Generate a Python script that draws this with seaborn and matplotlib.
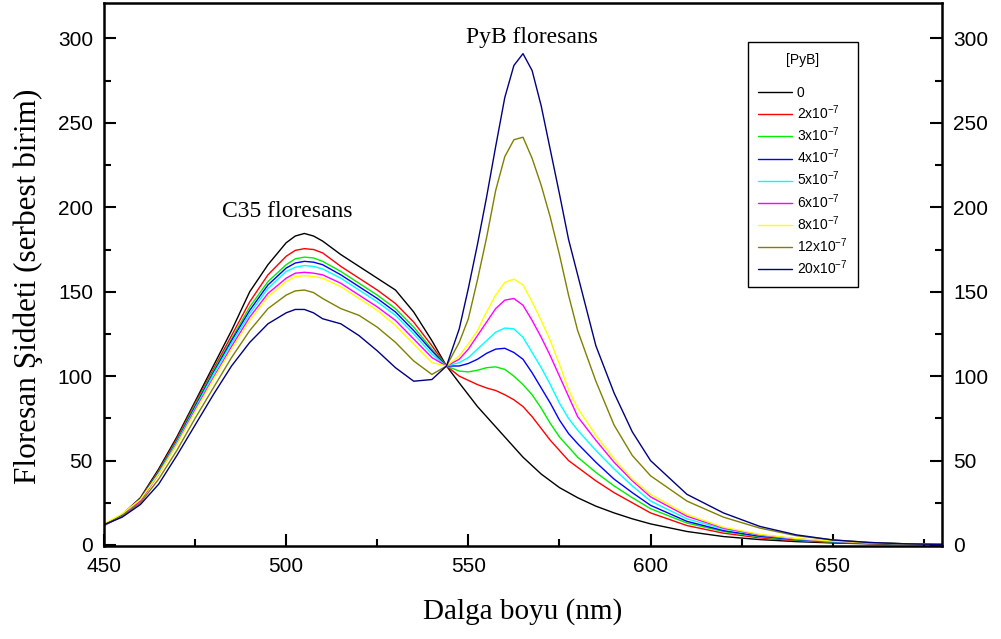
import matplotlib
matplotlib.use("Agg")
import numpy as np
import pandas as pd
import seaborn as sns
import matplotlib.pyplot as plt
from matplotlib.ticker import MultipleLocator
from matplotlib.lines import Line2D

# ---------------- data ----------------
wavelength = [450, 455, 460, 465, 470, 475, 480, 485, 490, 495, 500, 502.5, 505, 507.5, 510,
              515, 520, 525, 530, 535, 540, 544, 547.5, 550, 552.5, 555, 557.5, 560, 562.5,
              565, 567.5, 570, 572.5, 575, 577.5, 580, 585, 590, 595, 600, 610, 620, 630,
              640, 650, 660, 670, 680]

conc_0 = [12, 18, 28, 45, 64, 85, 106, 127, 150, 166, 179, 183, 184.5, 183, 180,
          172, 165, 158, 151, 138, 121, 106, 96, 89, 82, 76, 70, 64, 58,
          52, 47, 42, 38, 34, 31, 28, 23, 19, 15.5, 12.5, 8, 5, 3.2,
          2, 1.2, 0.7, 0.4, 0.2]
conc_2 = [12, 18, 27.5, 44, 63, 84, 104, 124, 144, 160, 171, 174.5, 175.5, 175, 173,
          165, 158, 151, 143, 132, 118, 106, 100, 97.5, 95, 93, 91.5, 89, 86,
          82, 76, 69, 62, 56, 50, 46, 38, 31, 25, 19, 11.5, 7, 4.2,
          2.6, 1.6, 0.9, 0.5, 0.3]
conc_3 = [12, 18, 27, 43.5, 62, 83, 103, 122, 141, 156, 166, 169.5, 170.5, 170, 168,
          162, 155, 148, 140, 129, 116, 106, 103, 102.5, 103.5, 105, 105.5, 104, 100,
          95, 89, 81, 72, 64, 58, 52, 43, 35, 28, 21.5, 13, 8, 4.8,
          2.9, 1.7, 1.0, 0.6, 0.3]
conc_4 = [12, 17.5, 27, 43, 61.5, 82, 102, 121, 139, 154, 164, 167, 168, 167.5, 166,
          160, 153, 146, 138, 127, 115, 106, 106, 107.5, 110, 113.5, 116, 116.5, 114,
          110, 102, 93, 84, 74, 66, 60, 49, 39, 31, 23.5, 14, 8.5, 5.2,
          3.2, 1.9, 1.1, 0.6, 0.3]
conc_5 = [11.5, 17, 26.5, 42.5, 61, 81, 101, 119.5, 137, 152, 162, 164.5, 165.5, 165, 163.5,
          158, 151, 144, 136, 125, 113, 106, 108, 111, 116, 121, 126, 128.5, 128,
          123, 114, 105, 95, 84, 75, 68, 56, 45, 35, 26, 15.5, 9.5, 5.8,
          3.5, 2.1, 1.2, 0.7, 0.3]
conc_6 = [11.5, 17, 26, 42, 60, 80, 99, 117.5, 135, 149, 158, 161, 161.5, 161, 160,
          155, 148, 141, 133, 122, 111, 106, 110, 116, 124, 132, 140, 145, 146,
          142, 133, 123, 112, 100, 88, 76, 62, 49, 38, 28.5, 17, 10, 6,
          3.6, 2.2, 1.3, 0.7, 0.3]
conc_8 = [12.5, 18.5, 27, 42, 59.5, 79, 98, 116, 133, 147, 156, 159, 159.5, 159, 158,
          153, 146, 139, 130, 119, 108, 106, 112, 119, 127, 138, 148, 155.5, 157.5,
          154, 144, 133, 121, 107, 92, 81, 65, 51, 39, 30, 18, 10.5, 6.3,
          3.8, 2.3, 1.3, 0.7, 0.3]
conc_12 = [12, 17, 25, 39, 56, 75, 93, 111, 127, 140, 148, 150.5, 151, 149.5, 146,
           140, 136, 129, 120, 109, 101, 106, 120, 134, 157, 182, 210, 230, 240,
           241.5, 229, 213, 194, 172, 148, 127, 97, 71, 53, 41, 26, 16.5, 10,
           5.5, 3, 1.5, 0.7, 0.3]
conc_20 = [12, 16.5, 24, 36, 53, 71, 89, 106, 120, 131, 137.5, 139.5, 139.5, 137.5, 134,
           131, 124, 115, 105, 97, 98, 106, 128, 152, 178, 206, 236, 265, 284,
           291, 281, 260, 234, 208, 181, 160, 118, 90, 67, 50, 30, 19, 11,
           6, 3, 1.5, 0.7, 0.3]

series_labels = ["0", "2x10$^{-7}$", "3x10$^{-7}$", "4x10$^{-7}$", "5x10$^{-7}$",
                 "6x10$^{-7}$", "8x10$^{-7}$", "12x10$^{-7}$", "20x10$^{-7}$"]
series_values = [conc_0, conc_2, conc_3, conc_4, conc_5, conc_6, conc_8, conc_12, conc_20]
colors = ["#000000", "#ff0000", "#00ee00", "#0000ff", "#00ffff",
          "#ff00ff", "#ffff00", "#808000", "#000080"]

x_ticks = [450, 500, 550, 600, 650]
y_ticks = [0, 50, 100, 150, 200, 250, 300]

# ---------------- figure ----------------
sns.set_theme(style="white")
plt.rcParams["font.family"] = ["Liberation Sans", "DejaVu Sans"]
plt.rcParams["mathtext.default"] = "regular"
for k in ["text.color", "axes.labelcolor", "xtick.color", "ytick.color", "axes.edgecolor"]:
    plt.rcParams[k] = "black"

rows = []
for lab, vals in zip(series_labels, series_values):
    for w, v in zip(wavelength, vals):
        rows.append((w, v, lab))
df = pd.DataFrame(rows, columns=["wavelength", "intensity", "conc"])

fig = plt.figure(figsize=(10.01, 6.39), dpi=100)
ax = fig.add_axes([104 / 1001, 93 / 639, 838 / 1001, 543 / 639])

sns.lineplot(data=df, x="wavelength", y="intensity", hue="conc",
             hue_order=series_labels, palette=colors, linewidth=1.0,
             errorbar=None, sort=False, legend=False, ax=ax)

ax.set_xlim(450, 680)
ax.set_ylim(-0.6, 321)
ax.set_xticks(x_ticks)
ax.set_yticks(y_ticks)
ax.xaxis.set_minor_locator(MultipleLocator(25))
ax.yaxis.set_minor_locator(MultipleLocator(25))

for s in ax.spines.values():
    s.set_visible(True)
    s.set_linewidth(1.8)
    s.set_color("black")

ax.tick_params(axis="both", which="major", direction="in", length=8.5, width=1.5,
               labelsize=15, pad=8, top=False, right=True, left=True, bottom=True,
               labelright=True, labelleft=True)
ax.tick_params(axis="both", which="minor", direction="in", length=5, width=1.5,
               top=False, right=True, left=True, bottom=True)

serif = ["Liberation Serif", "DejaVu Serif"]
ax.set_xlabel("Dalga boyu (nm)", fontsize=21, family=serif)
ax.set_ylabel("Floresan Şiddeti (serbest birim)", fontsize=22.5, family=serif)
ax.xaxis.set_label_coords(0.5, -0.096)
ax.yaxis.set_label_coords(-0.073, 0.479)

ax.text(500.2, 197.5, "C35 floresans", fontsize=17, family=serif, ha="center", va="center")
ax.text(567.5, 300.5, "PyB floresans", fontsize=17, family=serif, ha="center", va="center")

handles = [Line2D([], [], color=c, lw=1.0) for c in colors]
leg = ax.legend(handles, series_labels, title="[PyB]\n", loc="upper left",
                bbox_to_anchor=(0.7685, 0.928), borderaxespad=0, fontsize=10,
                title_fontsize=10, frameon=True, fancybox=False, shadow=False,
                handlelength=2.4, handletextpad=0.35, labelspacing=0.25, borderpad=0.75)
leg.get_frame().set_edgecolor("black")
leg.get_frame().set_linewidth(1.0)
leg.get_frame().set_alpha(1)

fig.savefig("out.png", dpi=100)
